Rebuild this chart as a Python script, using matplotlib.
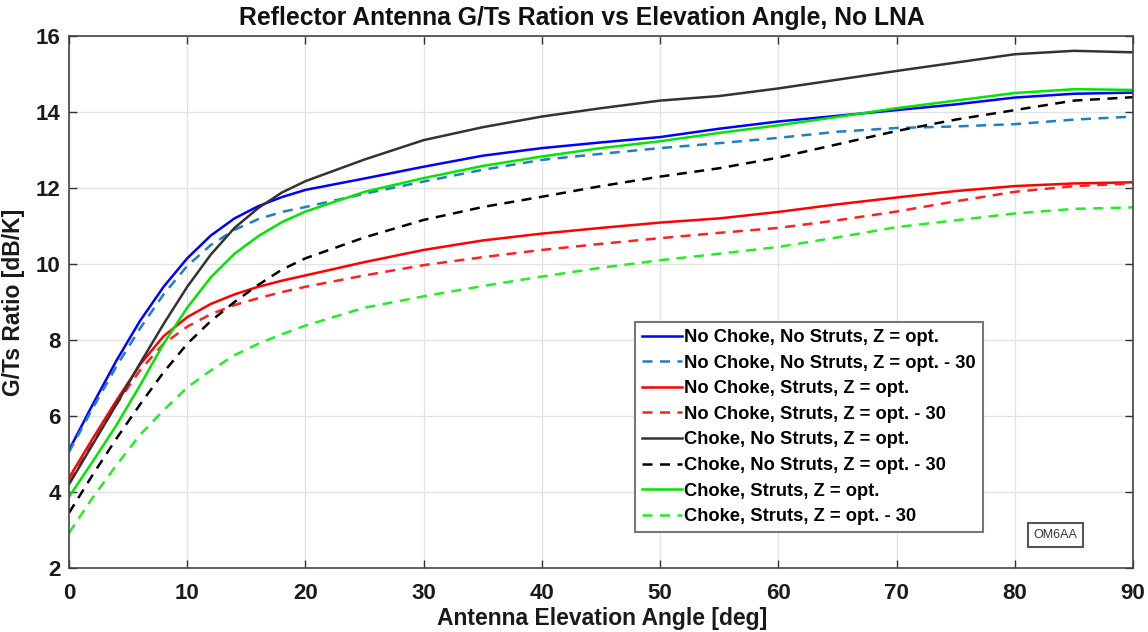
import matplotlib
matplotlib.use("Agg")
import matplotlib.pyplot as plt

angle = [0, 2, 4, 6, 8, 10, 12, 14, 16, 18, 20, 25, 30, 35, 40, 45, 50, 55, 60, 65, 70, 75, 80, 85, 90]

nochoke_nostruts_opt = [5.1, 6.3, 7.45, 8.5, 9.4, 10.15, 10.75, 11.2, 11.52, 11.76, 11.95, 12.25, 12.56, 12.85, 13.05, 13.2, 13.34, 13.56, 13.75, 13.9, 14.05, 14.2, 14.38, 14.48, 14.51]
nochoke_nostruts_m30 = [5.05, 6.2, 7.3, 8.3, 9.2, 9.95, 10.5, 10.9, 11.18, 11.37, 11.5, 11.85, 12.17, 12.48, 12.74, 12.9, 13.05, 13.18, 13.32, 13.48, 13.58, 13.62, 13.68, 13.8, 13.88]
nochoke_struts_opt = [4.37, 5.4, 6.4, 7.35, 8.1, 8.6, 8.95, 9.2, 9.4, 9.56, 9.7, 10.05, 10.37, 10.62, 10.8, 10.95, 11.09, 11.2, 11.37, 11.57, 11.75, 11.92, 12.05, 12.12, 12.15]
nochoke_struts_m30 = [4.3, 5.3, 6.3, 7.2, 7.9, 8.35, 8.68, 8.92, 9.1, 9.26, 9.4, 9.7, 9.97, 10.18, 10.37, 10.53, 10.68, 10.82, 10.95, 11.15, 11.38, 11.65, 11.9, 12.05, 12.12]
choke_nostruts_opt = [4.2, 5.25, 6.3, 7.38, 8.42, 9.4, 10.25, 10.95, 11.47, 11.88, 12.18, 12.75, 13.26, 13.6, 13.88, 14.1, 14.3, 14.42, 14.62, 14.85, 15.08, 15.3, 15.52, 15.61, 15.57]
choke_nostruts_m30 = [3.45, 4.45, 5.4, 6.3, 7.15, 7.9, 8.5, 9.0, 9.45, 9.85, 10.15, 10.7, 11.16, 11.5, 11.77, 12.05, 12.3, 12.52, 12.8, 13.15, 13.5, 13.8, 14.05, 14.3, 14.39]
choke_struts_opt = [3.87, 4.8, 5.75, 6.8, 7.9, 8.85, 9.65, 10.27, 10.73, 11.1, 11.38, 11.9, 12.26, 12.58, 12.83, 13.05, 13.23, 13.45, 13.65, 13.87, 14.1, 14.3, 14.5, 14.6, 14.58]
choke_struts_m30 = [2.92, 3.85, 4.7, 5.5, 6.15, 6.75, 7.2, 7.6, 7.9, 8.15, 8.38, 8.85, 9.15, 9.42, 9.67, 9.9, 10.1, 10.27, 10.45, 10.7, 10.97, 11.15, 11.33, 11.45, 11.49]

labels = [
    "No Choke, No Struts, Z = opt.",
    "No Choke, No Struts, Z = opt. - 30",
    "No Choke, Struts, Z = opt.",
    "No Choke, Struts, Z = opt. - 30",
    "Choke, No Struts, Z = opt.",
    "Choke, No Struts, Z = opt. - 30",
    "Choke, Struts, Z = opt.",
    "Choke, Struts, Z = opt. - 30",
]
xticks = [0, 10, 20, 30, 40, 50, 60, 70, 80, 90]
yticks = [2, 4, 6, 8, 10, 12, 14, 16]

series = [nochoke_nostruts_opt, nochoke_nostruts_m30, nochoke_struts_opt, nochoke_struts_m30,
          choke_nostruts_opt, choke_nostruts_m30, choke_struts_opt, choke_struts_m30]
colors = ["#0000ff", "#1f7fc4", "#ff0000", "#ff2020", "#333333", "#000000", "#00e600", "#22ee22"]
dashed = [False, True, False, True, False, True, False, True]

plt.rcParams['font.family'] = ['Liberation Sans', 'DejaVu Sans']

fig = plt.figure(figsize=(11.48, 6.32), dpi=100)
ax = fig.add_axes([69/1148, 1-568/632, (1133-69)/1148, (568-36)/632])

for ys, c, d, lab in zip(series, colors, dashed, labels):
    if d:
        ax.plot(angle, ys, color=c, lw=1.8, dashes=(4, 3), label=lab)
    else:
        ax.plot(angle, ys, color=c, lw=1.8, label=lab)

ax.set_xlim(0, 90)
ax.set_ylim(2, 16)
ax.set_xticks(xticks)
ax.set_yticks(yticks)
ax.grid(True, color="#e3e3e3", lw=1.0)
ax.set_axisbelow(True)
ax.tick_params(direction="in", top=True, right=True, length=6, width=1, colors="#333333",
               labelsize=16)
ax.tick_params(axis="x", pad=11)
ax.tick_params(axis="y", pad=6)
for lab in ax.get_xticklabels() + ax.get_yticklabels():
    lab.set_fontweight("bold")
    lab.set_color("#1a1a1a")
for s in ax.spines.values():
    s.set_color("#444444")
    s.set_linewidth(1.2)

fig.text(602/1148, 1-618/632, "Antenna Elevation Angle [deg]", ha="center", va="center",
         fontsize=16.5, fontweight="bold", color="#1a1a1a")
ax.set_ylabel("G/Ts Ratio [dB/K]", fontsize=16.5, fontweight="bold", color="#1a1a1a", labelpad=8)
fig.text(582/1148, 1-18/632, "Reflector Antenna G/Ts Ration vs Elevation Angle, No LNA",
         ha="center", va="center", fontsize=17.8, fontweight="bold", color="#111111")

leg = ax.legend(loc="upper left", bbox_to_anchor=((635-69)/1064, (568-322)/532),
                prop={"weight": "bold", "size": 13.2}, frameon=True, fancybox=False,
                edgecolor="#777777", framealpha=1, handlelength=2.2, handletextpad=0.1,
                labelspacing=0.47, borderpad=0.38, borderaxespad=0)
leg.get_frame().set_linewidth(1.5)

ax.text((1030-69)/1064*90 + 0.3, 2 + (568-535)/38, "OM6AA", fontsize=9, color="#333344",
        ha="left", va="center",
        bbox=dict(boxstyle="square,pad=0.45", fc="white", ec="#555555", lw=1.5))

fig.savefig("out.png", dpi=100)
